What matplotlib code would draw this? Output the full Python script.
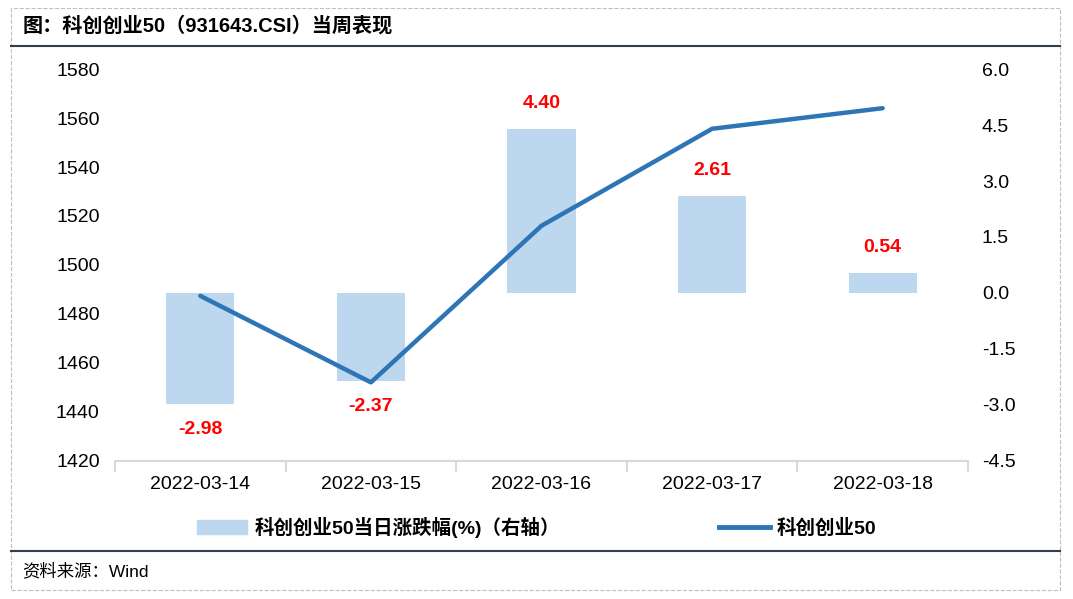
import matplotlib.pyplot as plt
from matplotlib.patches import Rectangle, Patch
from matplotlib.lines import Line2D

plt.rcParams['font.family'] = ['Liberation Sans', 'Noto Sans CJK SC', 'DejaVu Sans']

dates = ["2022-03-14", "2022-03-15", "2022-03-16", "2022-03-17", "2022-03-18"]
close = [1487.4, 1452.1, 1516.0, 1555.6, 1564.0]
pct_chg = [-2.98, -2.37, 4.40, 2.61, 0.54]

bar_color = "#BDD7EE"
line_color = "#2E75B6"

fig = plt.figure(figsize=(10.73, 5.99), dpi=100)
ax = fig.add_axes([0.1072, 0.2304, 0.7949, 0.6544])
ax2 = ax.twinx()

x = list(range(len(dates)))

# bars on the right axis, line on the left
ax2.bar(x, pct_chg, width=0.4, color=bar_color, zorder=1)
ax.plot(x, close, color=line_color, lw=3.2, solid_capstyle='round', zorder=3)
ax.set_zorder(ax2.get_zorder() + 1)
ax.patch.set_visible(False)

for xi, v in zip(x, pct_chg):
    off = 18 if v > 0 else -18
    ax2.annotate(f"{v:.2f}", (xi, v), xytext=(0, off), textcoords='offset points',
                 ha='center', va='center', color='red', fontsize=14, fontweight='bold')

ax.set_ylim(1420, 1580)
ax.set_yticks(range(1420, 1581, 20))
ax2.set_ylim(-4.5, 6.0)
ax2.set_yticks([-4.5, -3.0, -1.5, 0.0, 1.5, 3.0, 4.5, 6.0])
ax2.set_yticklabels([f"{t:.1f}" for t in ax2.get_yticks()])
ax.set_xlim(-0.5, len(dates) - 0.5)
ax.set_xticks(x)
ax.set_xticklabels(dates)
ax.set_xticks([i - 0.5 for i in range(len(dates) + 1)], minor=True)

for a in (ax, ax2):
    for s in a.spines.values():
        s.set_visible(False)
ax.spines['bottom'].set_visible(True)
ax.spines['bottom'].set_color('#D9D9D9')
ax.spines['bottom'].set_linewidth(1.5)

ax.tick_params(axis='x', which='major', length=0, labelsize=14, pad=11)
ax.tick_params(axis='x', which='minor', length=8, width=1.5, color='#D9D9D9')
ax.tick_params(axis='y', length=0, labelsize=14, pad=11)
ax2.tick_params(axis='y', length=0, labelsize=14, pad=10)

handles = [Patch(color=bar_color), Line2D([], [], color=line_color, lw=3.5)]
labels = ["科创创业50当日涨跌幅(%)（右轴）", "科创创业50"]
fig.legend(handles, labels, loc='center', bbox_to_anchor=(0.50, 0.12), ncol=2,
           frameon=False, columnspacing=8.2, handlelength=2.6, handletextpad=0.35,
           prop={'weight': 'bold', 'size': 14})

# title, footer, frame
fig.text(0.021, 0.957, "图：科创创业50（931643.CSI）当周表现", fontsize=14.5,
         fontweight='bold', ha='left', va='center')
fig.add_artist(Line2D([0.01, 0.988], [0.923, 0.923], transform=fig.transFigure,
                      color='#333F4F', lw=1.5))
fig.add_artist(Line2D([0.01, 0.988], [0.08, 0.08], transform=fig.transFigure,
                      color='#333F4F', lw=1.5))
fig.text(0.021, 0.046, "资料来源：Wind", fontsize=12.5, ha='left', va='center')
fig.add_artist(Rectangle((0.01, 0.015), 0.978, 0.972, transform=fig.transFigure,
                         fill=False, ls='--', lw=0.8, edgecolor='#BFBFBF'))

fig.savefig("out.png", dpi=100)
